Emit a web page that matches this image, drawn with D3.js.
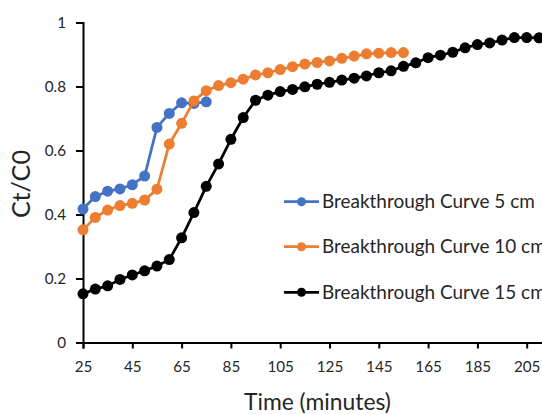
<!DOCTYPE html>
<html><head><meta charset="utf-8">
<script src="https://cdn.jsdelivr.net/npm/d3@7"></script>
<style>html,body{margin:0;padding:0;background:#fff;overflow:hidden}</style>
</head><body>
<svg id="c" width="542" height="415"></svg>
<script>
const seriesNames = ["Breakthrough Curve 5 cm", "Breakthrough Curve 10 cm", "Breakthrough Curve 15 cm"];
const seriesColors = ["#4472C4", "#ED7D31", "#000000"];
const times5 = [25,30,35,40,45,50,55,60,65,70,75];
const values5 = [0.417,0.456,0.473,0.480,0.493,0.520,0.672,0.716,0.749,0.747,0.752];
const times10 = [25,30,35,40,45,50,55,60,65,70,75,80,85,90,95,100,105,110,115,120,125,130,135,140,145,150,155];
const values10 = [0.352,0.391,0.414,0.428,0.435,0.445,0.479,0.620,0.685,0.755,0.787,0.803,0.812,0.823,0.836,0.843,0.853,0.862,0.870,0.875,0.880,0.888,0.895,0.902,0.904,0.906,0.906];
const times15 = [25,30,35,40,45,50,55,60,65,70,75,80,85,90,95,100,105,110,115,120,125,130,135,140,145,150,155,160,165,170,175,180,185,190,195,200,205,210];
const values15 = [0.152,0.167,0.177,0.197,0.211,0.224,0.239,0.259,0.327,0.406,0.488,0.558,0.635,0.703,0.757,0.773,0.784,0.791,0.799,0.807,0.813,0.820,0.826,0.833,0.843,0.849,0.863,0.874,0.890,0.898,0.907,0.921,0.931,0.936,0.945,0.953,0.953,0.952];
const xTicks = [25,45,65,85,105,125,145,165,185,205];
const yTicks = [0,0.2,0.4,0.6,0.8,1];
const xTitle = "Time (minutes)";
const yTitle = "Ct/C0";

const FONT = "Lato, 'Open Sans', 'DejaVu Sans', sans-serif";
const TEXT = "#262626";
const svg = d3.select("#c");

const x = d3.scaleLinear().domain([25, 215]).range([83, 83 + 190 * 2.465]);
const y = d3.scaleLinear().domain([0, 1]).range([342.5, 22.5]);

function fit(sel, target) {
  const n = sel.node();
  const fs = parseFloat(sel.attr("font-size"));
  const w = n.getComputedTextLength();
  if (w > 0) sel.attr("font-size", (fs * target / w).toFixed(2));
}

// axes
const xAxis = svg.append("g").attr("transform", `translate(0,${y(0)})`)
  .call(d3.axisBottom(x).tickValues(xTicks).tickSizeOuter(0).tickSize(6).tickPadding(13).tickFormat(d3.format("d")));
const yAxis = svg.append("g").attr("transform", `translate(${x(25)},0)`)
  .call(d3.axisLeft(y).tickValues(yTicks).tickSizeOuter(0).tickSize(7).tickPadding(10)
    .tickFormat(d => d === 0 ? "0" : d === 1 ? "1" : d.toFixed(1)));
[xAxis, yAxis].forEach(g => {
  g.select(".domain").attr("stroke", "#000").attr("stroke-width", 2);
  g.selectAll(".tick line").attr("stroke", "#000").attr("stroke-width", 2);
  g.selectAll(".tick text").attr("fill", TEXT).attr("font-family", FONT).attr("font-size", 16);
});
// fit tick font size to "205" width
const t205 = xAxis.selectAll(".tick text").filter(d => d === 205);
fit(t205, 26.5);
const tickFs = t205.attr("font-size");
xAxis.selectAll(".tick text").attr("font-size", tickFs);
yAxis.selectAll(".tick text").attr("font-size", tickFs);

// series
const series = [
  {t: times5, v: values5},
  {t: times10, v: values10},
  {t: times15, v: values15}
];
const line = d3.line().x(d => x(d[0])).y(d => y(d[1]));
series.forEach((s, i) => {
  const pts = s.t.map((t, j) => [t, s.v[j]]);
  const g = svg.append("g");
  g.append("path").attr("d", line(pts)).attr("fill", "none")
    .attr("stroke", seriesColors[i]).attr("stroke-width", 2.75).attr("stroke-linejoin", "round");
  g.selectAll("circle").data(pts).join("circle")
    .attr("cx", d => x(d[0])).attr("cy", d => y(d[1])).attr("r", 5.5)
    .attr("fill", seriesColors[i]);
});

// legend
const legY = [201.7, 246.7, 292.3];
let legFs = null;
seriesNames.forEach((name, i) => {
  const g = svg.append("g").attr("transform", `translate(0,${legY[i]})`);
  g.append("line").attr("x1", 284).attr("x2", 319).attr("y1", 0).attr("y2", 0)
    .attr("stroke", seriesColors[i]).attr("stroke-width", 2.75);
  g.append("circle").attr("cx", 301.5).attr("cy", 0).attr("r", 4.5).attr("fill", seriesColors[i]);
  const t = g.append("text").attr("x", 322).attr("y", 0).attr("dy", "0.35em")
    .attr("font-family", FONT).attr("font-size", 18).attr("fill", TEXT).text(name);
  if (i === 0) { fit(t, 213); legFs = t.attr("font-size"); }
  else t.attr("font-size", legFs);
});

// titles
const xt = svg.append("text").attr("x", 317.5).attr("y", 410).attr("text-anchor", "middle")
  .attr("font-family", FONT).attr("font-size", 20).attr("fill", TEXT).text(xTitle);
fit(xt, 147);
const yt = svg.append("text").attr("transform", `translate(30,184) rotate(-90)`).attr("text-anchor", "middle")
  .attr("font-family", FONT).attr("font-size", 20).attr("fill", TEXT).text(yTitle);
fit(yt, 68);
</script>
</body></html>
